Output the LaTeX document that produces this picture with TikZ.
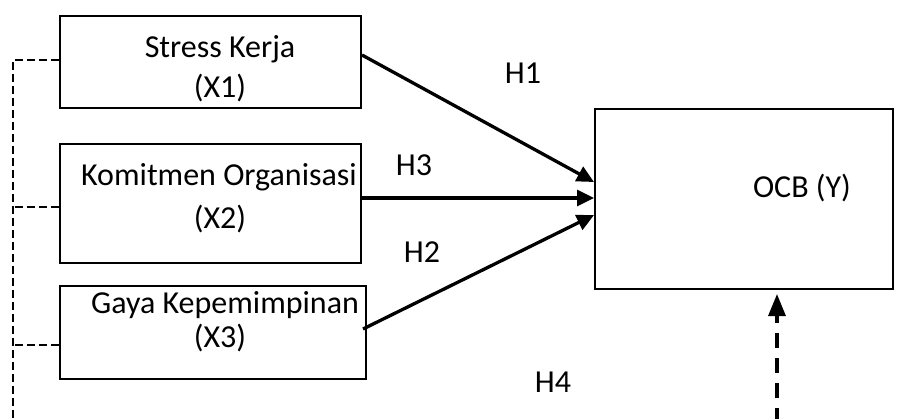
\documentclass[tikz,border=0pt]{standalone}
\usepackage{fontspec}
\setmainfont{Carlito}
\usetikzlibrary{arrows.meta,calc}
\begin{document}
\begin{tikzpicture}[x=0.5pt,y=-0.5pt,
  every node/.style={font=\fontsize{16}{19}\selectfont},
  varbox/.style={draw,line width=1pt,rectangle,inner sep=0pt},
  lbl/.style={anchor=base,inner sep=0pt},
  patharrow/.style={line width=1.65pt,-{Triangle[length=8.5pt,width=8pt]}},
  leftdash/.style={line width=1.1pt,dash pattern=on 4pt off 2pt},
  dasharrow/.style={line width=1.6pt,dash pattern=on 7.5pt off 5pt,dash phase=2pt,-{Triangle[length=11pt,width=8.5pt]}}]
\useasboundingbox (0,0) rectangle (907,419);
% boxes
\node[varbox,minimum width=150.5pt,minimum height=46pt] (x1) at (210.5,62) {};
\node[varbox,minimum width=150.5pt,minimum height=59.5pt] (x2) at (210.5,203.5) {};
\node[varbox,minimum width=153pt,minimum height=46.5pt] (x3) at (213,332.5) {};
\node[varbox,minimum width=149pt,minimum height=90pt] (ocb) at (744,199) {};
% box texts
\node[lbl] (t1a) at (220,57) {Stress Kerja};
\node[lbl] (t1b) at (220,97) {(X1)};
\node[lbl] (t2a) at (219,185) {Komitmen Organisasi};
\node[lbl] (t2b) at (220,228) {(X2)};
\node[lbl] (t3a) at (225,313) {Gaya Kepemimpinan};
\node[lbl] (t3b) at (220,347) {(X3)};
\node[lbl] (ty) at (802,197) {OCB (Y)};
% hypothesis labels
\node[lbl] (h1) at (523,83) {H1};
\node[lbl] (h3) at (414,175) {H3};
\node[lbl] (h2) at (422,262) {H2};
\node[lbl] (h4) at (553,392) {H4};
% solid arrows
\draw[patharrow] ([yshift=3.5pt]x1.east) -- ([yshift=8.5pt]ocb.west);
\draw[patharrow] ([yshift=2.75pt]x2.east) -- ([yshift=2.75pt]x2.east -| ocb.west);
\draw[patharrow] ([yshift=1.75pt,xshift=-2pt]x3.east) -- ([yshift=-8pt]ocb.west);
% left dashed bracket
\coordinate (ltop) at (13,60);
\coordinate (lbot) at (13,419);
\draw[leftdash] (ltop -| x1.west) -- (ltop) -- (lbot);
\draw[leftdash] ([yshift=-1.75pt]x2.west) -- ([yshift=-1.75pt]x2.west -| ltop);
\draw[leftdash] ([yshift=-6.25pt]x3.west) -- ([yshift=-6.25pt]x3.west -| ltop);
% dashed arrow from below
\coordinate (abot) at (777,419);
\draw[dasharrow,shorten >=2pt] (abot) -- (abot |- ocb.south);
\end{tikzpicture}
\end{document}
